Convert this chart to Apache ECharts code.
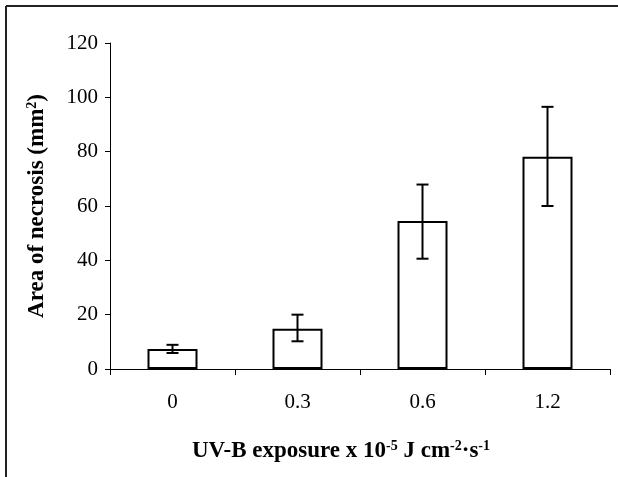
<!DOCTYPE html>
<html>
<head>
<meta charset="utf-8">
<script src="https://cdn.jsdelivr.net/npm/echarts@6/dist/echarts.min.js"></script>
<style>
  html, body {margin: 0; padding: 0; background: #fff;}
  #chart {width: 618px; height: 477px;}
</style>
</head>
<body>
<div id="chart"></div>
<script>
// UV-B dose vs area of necrosis
var doses = ['0', '0.3', '0.6', '1.2'];
var means = [7.4, 14.8, 54.5, 78.1];
var errLow = [5.9, 10.2, 40.6, 60.0];
var errHigh = [8.9, 20.0, 67.9, 96.5];
var yTicks = [0, 20, 40, 60, 80, 100, 120];

var serif = "'Liberation Serif', 'Times New Roman', serif";

var errData = doses.map(function (d, i) {
    return [i, errLow[i], errHigh[i]];
});

var chart = echarts.init(document.getElementById('chart'));

var option = {
    backgroundColor: '#fff',
    animation: false,
    grid: {left: 110, right: 8, top: 43, bottom: 108},
    graphic: [
        // frame round the figure (only left and top edges show)
        {type: 'line', shape: {x1: 6, y1: 6, x2: 618, y2: 6}, style: {stroke: '#222', lineWidth: 2}},
        {type: 'line', shape: {x1: 6, y1: 6, x2: 6, y2: 477}, style: {stroke: '#222', lineWidth: 2}}
    ],
    xAxis: {
        type: 'category',
        data: doses,
        axisLine: {lineStyle: {color: '#000', width: 1}},
        axisTick: {show: true, length: 6, lineStyle: {color: '#000'}},
        axisLabel: {color: '#000', fontFamily: serif, fontSize: 21, margin: 23},
        name: 'UV-B exposure x 10{sup|-5} J cm{sup|-2}·s{sup|-1}',
        nameLocation: 'middle',
        nameGap: 70,
        nameTextStyle: {
            color: '#000', fontFamily: serif, fontSize: 23, fontWeight: 'bold',
            padding: [0, 38, 0, 0],
            rich: {
                sup: {fontFamily: serif, fontSize: 14, fontWeight: 'bold', color: '#000',
                      verticalAlign: 'top', lineHeight: 24}
            }
        }
    },
    yAxis: {
        type: 'value',
        min: 0,
        max: 120,
        interval: 20,
        axisLine: {show: true, lineStyle: {color: '#000', width: 1}},
        axisTick: {show: true, length: 5, lineStyle: {color: '#000'}},
        splitLine: {show: false},
        axisLabel: {color: '#000', fontFamily: serif, fontSize: 21, margin: 12,
            formatter: function (v) { return yTicks.indexOf(v) >= 0 ? String(v) : ''; }},
        name: 'Area of necrosis (mm{sup|2})',
        nameLocation: 'middle',
        nameGap: 61,
        nameRotate: 90,
        nameTextStyle: {
            color: '#000', fontFamily: serif, fontSize: 23, fontWeight: 'bold',
            rich: {
                sup: {fontFamily: serif, fontSize: 14, fontWeight: 'bold', color: '#000',
                      verticalAlign: 'top', lineHeight: 24}
            }
        }
    },
    series: [
        {
            type: 'bar',
            data: means,
            barWidth: '40%',
            itemStyle: {color: '#fff', borderColor: '#000', borderWidth: 2}
        },
        {
            type: 'custom',
            data: errData,
            z: 10,
            renderItem: function (params, api) {
                var x = api.value(0);
                var lo = api.coord([x, api.value(1)]);
                var hi = api.coord([x, api.value(2)]);
                var cap = 6;
                var st = {stroke: '#000', lineWidth: 2};
                return {
                    type: 'group',
                    children: [
                        {type: 'line', shape: {x1: lo[0], y1: lo[1], x2: hi[0], y2: hi[1]}, style: st},
                        {type: 'line', shape: {x1: lo[0] - cap, y1: lo[1], x2: lo[0] + cap, y2: lo[1]}, style: st},
                        {type: 'line', shape: {x1: hi[0] - cap, y1: hi[1], x2: hi[0] + cap, y2: hi[1]}, style: st}
                    ]
                };
            }
        }
    ]
};

chart.setOption(option);

window.onresize = function () {
    chart.resize();
};
</script>
</body>
</html>
